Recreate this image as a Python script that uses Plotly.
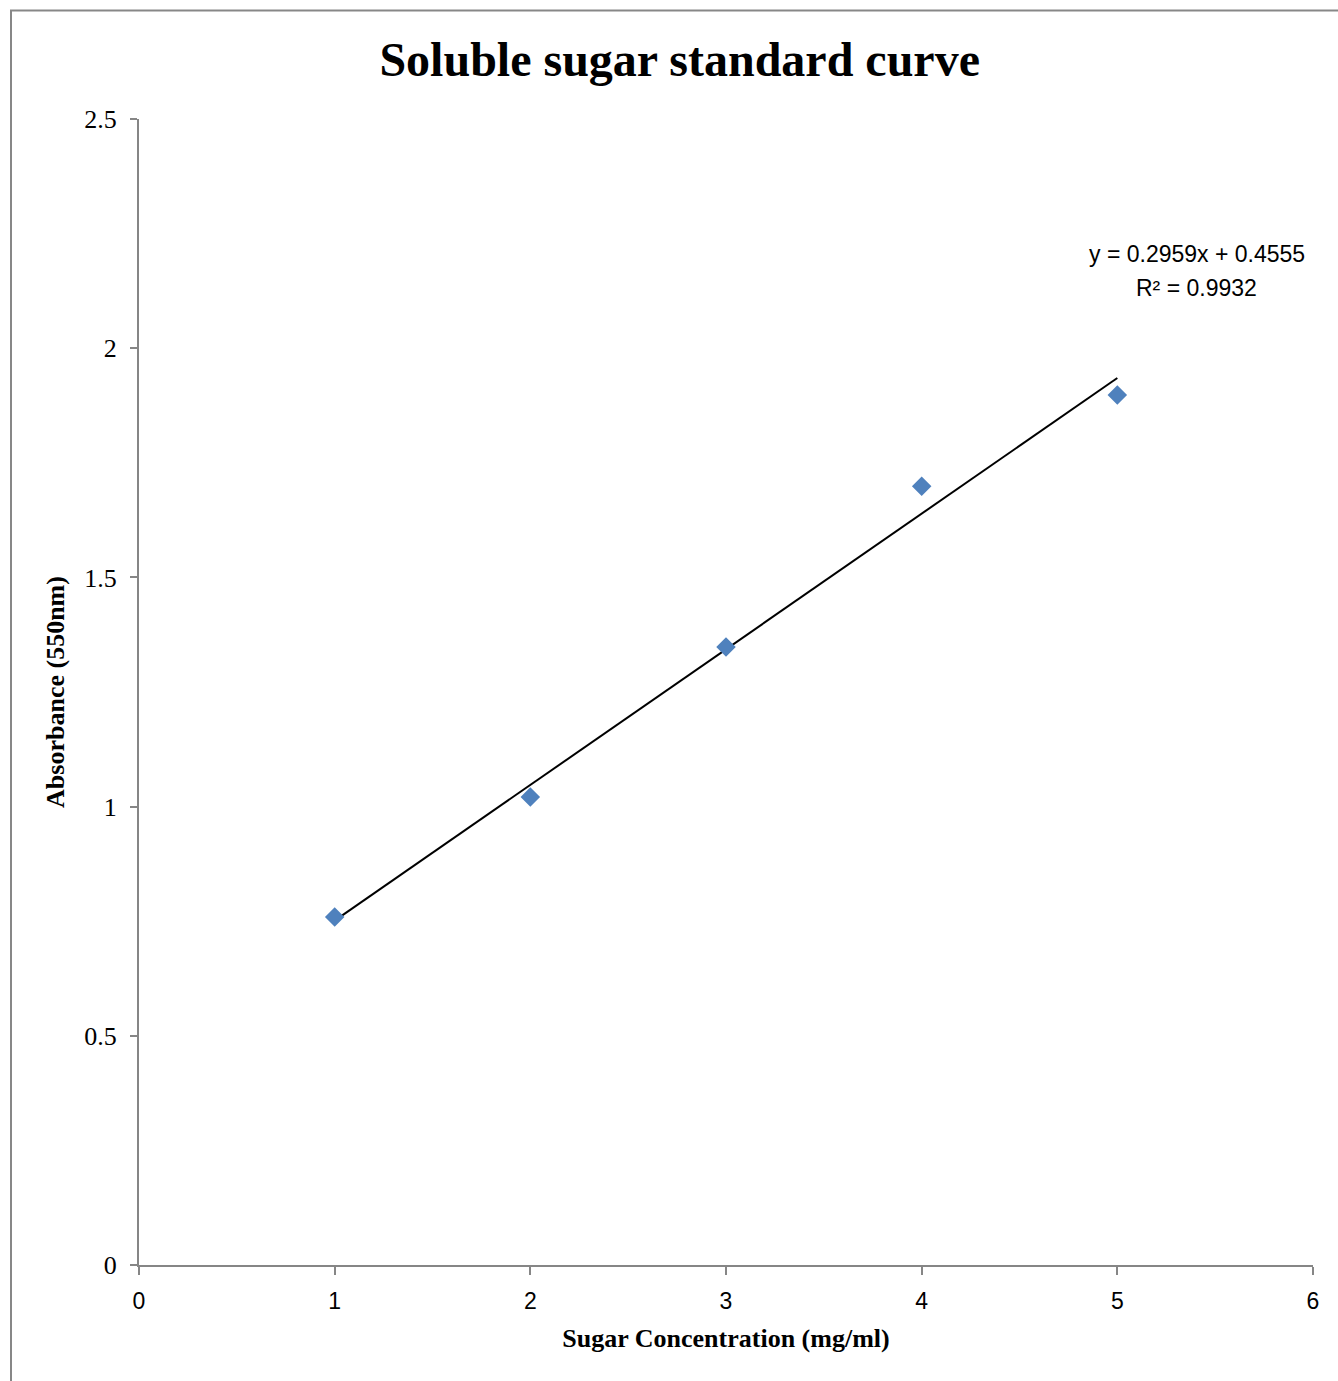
import plotly.graph_objects as go

# Standard solutions: sugar concentration (mg/ml) and measured absorbance at 550 nm
concentration = [1, 2, 3, 4, 5]
absorbance = [0.759, 1.021, 1.348, 1.699, 1.898]

# Linear fit reported for the standard curve
slope = 0.2959
intercept = 0.4555
r_squared = 0.9932

x_ticks = [0, 1, 2, 3, 4, 5, 6]
y_ticks = [0, 0.5, 1, 1.5, 2, 2.5]
y_tick_text = ["0", "0.5", "1", "1.5", "2", "2.5"]

axis_grey = "#868686"
serif = "Liberation Serif, Times New Roman, serif"
sans = "Liberation Sans, Arial, sans-serif"

fit_x = [concentration[0], concentration[-1]]
fit_y = [slope * v + intercept for v in fit_x]

fig = go.Figure()
fig.add_trace(go.Scatter(
    x=fit_x, y=fit_y, mode="lines",
    line=dict(color="black", width=2),
    hoverinfo="skip", showlegend=False,
))
fig.add_trace(go.Scatter(
    x=concentration, y=absorbance, mode="markers",
    marker=dict(symbol="diamond", size=15, color="#4F81BD",
                line=dict(width=0)),
    showlegend=False,
))

# Regression equation label (two lines)
label_font = dict(family=sans, size=23, color="black")
fig.add_annotation(
    x=5.407, y=2.2055, xref="x", yref="y",
    text=f"y = {slope}x + {intercept}",
    showarrow=False, font=label_font,
)
fig.add_annotation(
    x=5.407, y=2.1313, xref="x", yref="y",
    text=f"R² = {r_squared}",
    showarrow=False, font=label_font,
)

fig.update_layout(
    width=1338, height=1381,
    margin=dict(l=139, r=25, t=119, b=116),
    paper_bgcolor="white", plot_bgcolor="white",
    title=dict(
        text="<b>Soluble sugar standard curve</b>",
        x=0.508, xanchor="center", y=0.957, yanchor="middle",
        font=dict(family=serif, size=48, color="black"),
    ),
    xaxis=dict(
        range=[0, 6], tickvals=x_ticks,
        showgrid=False, zeroline=False,
        showline=True, linecolor=axis_grey, linewidth=2,
        ticks="outside", ticklen=8, tickwidth=2, tickcolor=axis_grey,
        ticklabelstandoff=6,
        tickfont=dict(family=sans, size=23, color="black"),
        title=dict(text="<b>Sugar Concentration (mg/ml)</b>", standoff=16,
                   font=dict(family=serif, size=26, color="black")),
    ),
    yaxis=dict(
        range=[0, 2.5], tickvals=y_ticks, ticktext=y_tick_text,
        showgrid=False, zeroline=False,
        showline=True, linecolor=axis_grey, linewidth=2,
        ticks="outside", ticklen=7, tickwidth=2, tickcolor=axis_grey,
        ticklabelstandoff=8,
        tickfont=dict(family=serif, size=26, color="black"),
        title=dict(text="<b>Absorbance (550nm)</b>", standoff=12,
                   font=dict(family=serif, size=26, color="black")),
    ),
    shapes=[dict(
        type="rect", xref="paper", yref="paper",
        x0=(11 - 139) / 1174, x1=1.2, y0=-0.3, y1=(1265 - 10.5) / 1146,
        line=dict(color="#878787", width=2), fillcolor="rgba(0,0,0,0)",
        layer="below",
    )],
)

fig.write_html("out.html")
